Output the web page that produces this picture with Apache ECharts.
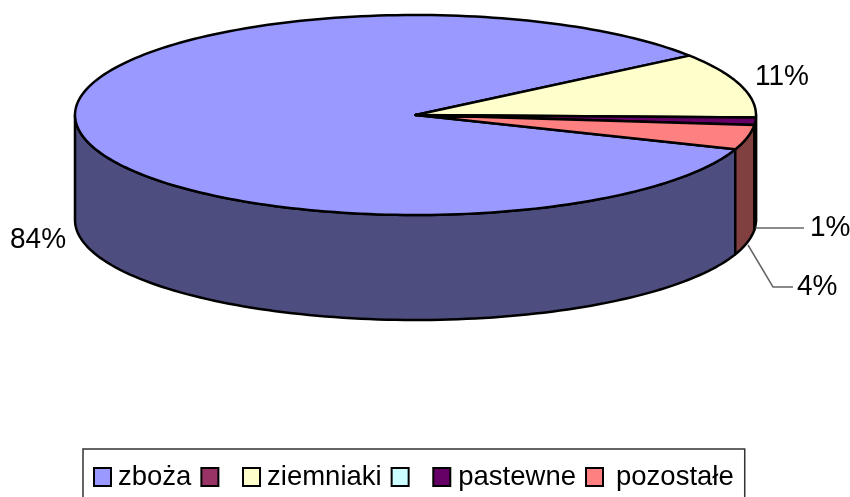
<!DOCTYPE html>
<html>
<head>
<meta charset="utf-8">
<style>
  html, body { margin: 0; padding: 0; background: #fff; }
  #chart { width: 850px; height: 497px; }
</style>
<script src="https://cdn.jsdelivr.net/npm/echarts@6/dist/echarts.min.js"></script>
</head>
<body>
<div id="chart"></div>
<script>
// data (labels are rounded, the slices are not)
var categories = ['zboża', ' ', 'ziemniaki', '\u00a0', 'pastewne', 'pozostałe'];
var values = [84.3, 0, 10.5, 0, 1.2, 4.0];
var topColors = ['#9999FF', '#993366', '#FFFFCC', '#CCFFFF', '#660066', '#FF8080'];
var sideColors = ['#4D4D80', '#4D1A33', '#808066', '#668080', '#330033', '#804040'];

// tilted pie geometry
var cx = 415.5, cy = 115, rx = 340.5, ry = 100, depth = 105;
var firstAngle = -20.1; // where the first slice starts, goes clockwise

// label places: text position, then leader line
var labelPlaces = [
    { x: 10, y: 240, line: null },
    null,
    { x: 755, y: 77, line: null },
    null,
    { x: 810, y: 228, line: [[754, 228], [804, 228]] },
    { x: 797, y: 287, line: [[748, 245], [773, 287], [793, 287]] }
];

// legend text padding, the last two entries sit a bit wider apart
var legendPads = [
    [0, 0, 0, 2],
    [0, 0, 0, 2],
    [0, 0, 0, 2],
    [0, 0, 0, 2],
    [0, 0, 0, 3],
    [0, 0, 0, 8]
];

var total = values.reduce(function (a, b) { return a + b; }, 0);

function startAngle(idx) {
    var sum = 0;
    for (var i = 0; i < idx; i++) {
        sum += values[i];
    }
    return firstAngle - sum / total * 360;
}

function ellipsePoint(deg, dy) {
    var r = deg * Math.PI / 180;
    return [cx + rx * Math.cos(r), cy - ry * Math.sin(r) + dy];
}

// arc points going clockwise from a0 down to a1
function arc(a0, a1, dy) {
    var pts = [];
    var n = Math.max(2, Math.ceil((a0 - a1) / 1.5));
    for (var i = 0; i <= n; i++) {
        pts.push(ellipsePoint(a0 + (a1 - a0) * i / n, dy));
    }
    return pts;
}

function renderSlice(idx) {
    return function (params, api) {
        var value = api.value(0);
        if (!value) {
            return { type: 'group', children: [] };
        }
        var a0 = startAngle(idx);
        var a1 = a0 - value / total * 360;
        var children = [];

        // front wall, only the part below the horizontal can be seen
        var ranges = [[a0, a1], [a0 + 360, a1 + 360], [a0 - 360, a1 - 360]];
        ranges.forEach(function (r) {
            var from = Math.min(r[0], 0);
            var to = Math.max(r[1], -180);
            if (from > to) {
                var wall = arc(from, to, 0).concat(arc(from, to, depth).reverse());
                children.push({
                    type: 'polygon',
                    shape: { points: wall },
                    style: { fill: sideColors[idx], stroke: '#000', lineWidth: 2.5, lineJoin: 'round' }
                });
            }
        });

        // top face
        children.push({
            type: 'polygon',
            shape: { points: [[cx, cy]].concat(arc(a0, a1, 0)) },
            style: { fill: topColors[idx], stroke: '#000', lineWidth: 2.5, lineJoin: 'round' }
        });

        var place = labelPlaces[idx];
        if (place.line) {
            children.push({
                type: 'polyline',
                shape: { points: place.line },
                style: { fill: null, stroke: '#666', lineWidth: 1.5 }
            });
        }
        children.push({
            type: 'text',
            x: place.x,
            y: place.y,
            scaleY: 1.08,
            style: {
                text: Math.round(value / total * 100) + '%',
                fill: '#000',
                font: '28px "Liberation Sans"',
                verticalAlign: 'middle'
            }
        });
        return { type: 'group', children: children };
    };
}

var seriesList = [];
var legendData = [];
for (var i = 0; i < categories.length; i++) {
    seriesList.push({
        name: categories[i],
        type: 'custom',
        coordinateSystem: 'none',
        silent: true,
        animation: false,
        itemStyle: { color: topColors[i] },
        data: [[values[i]]],
        renderItem: renderSlice(i)
    });
    legendData.push({
        name: categories[i],
        icon: 'rect',
        itemStyle: { color: topColors[i], borderColor: '#000', borderWidth: 2 },
        textStyle: { padding: legendPads[i] }
    });
}

var chart = echarts.init(document.getElementById('chart'), null, { renderer: 'canvas' });
chart.setOption({
    animation: false,
    backgroundColor: '#fff',
    legend: {
        left: 83,
        top: 449,
        orient: 'horizontal',
        data: legendData,
        selectedMode: false,
        itemWidth: 17,
        itemHeight: 18,
        itemGap: 9,
        padding: [14, 11, 30, 10],
        backgroundColor: '#fff',
        borderColor: '#333',
        borderWidth: 1.5,
        textStyle: { color: '#000', fontFamily: 'Liberation Sans', fontSize: 27.5 }
    },
    series: seriesList
});
</script>
</body>
</html>
